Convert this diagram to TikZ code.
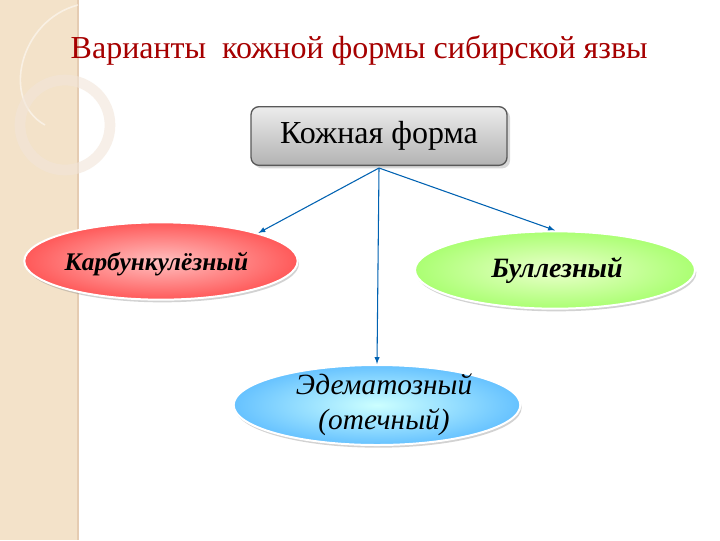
\documentclass[tikz,border=0pt]{standalone}
\usepackage{fontspec}
\setmainfont{Liberation Serif}
\usetikzlibrary{shadows,shapes.geometric}
\begin{document}
\begin{tikzpicture}[x=0.75pt,y=-0.75pt,
  ell/.style={ellipse,draw=white,line width=1.5pt,drop shadow={shadow xshift=1pt,shadow yshift=-2pt,opacity=0.35}},
  arr/.style={-latex,draw=blue!45!cyan!70!black,line width=0.8pt}]
\useasboundingbox (0,0) rectangle (720,540);
\fill[white] (0,0) rectangle (720,540);
\fill[yellow!30!orange!20!brown!25] (0,0) rectangle (78,540);
\draw[brown!40,line width=1pt] (78,0) -- (78,540);
\draw[white,opacity=0.5,line width=1.2pt] (78,5) .. controls (20,20) and (0,100) .. (45,125);
\draw[brown!20!white,opacity=0.6,line width=8pt] (65,125) circle (45);
\node[text=red!65!black,font=\rmfamily\fontsize{24}{26}\selectfont,anchor=west] (title) at (66,50) {Варианты\ \ кожной формы сибирской язвы};
\node[draw=gray!70!black,line width=1pt,rounded corners=6pt,top color=gray!15,bottom color=gray!60,minimum width=192pt,minimum height=44pt,font=\rmfamily\fontsize{24}{26}\selectfont,drop shadow={opacity=0.3}] (top) at (379,136) {Кожная форма};
\node[ell,minimum width=205pt,minimum height=58pt,inner color=red!25,outer color=red!65] (k) at (161,261) {};
\node[font=\rmfamily\fontsize{19}{21}\selectfont\bfseries\itshape,anchor=west] (kt) at (60,264) {Карбункулёзный};
\node[ell,minimum width=210pt,minimum height=58pt,inner color=green!40!yellow!20,outer color=green!60!yellow!55] (b) at (555,270) {};
\node[font=\rmfamily\fontsize{21}{23}\selectfont\bfseries\itshape] (bt) at (557,270) {Буллезный};
\node[ell,minimum width=215pt,minimum height=60pt,inner color=cyan!20,outer color=cyan!60!blue!60] (e) at (377,405) {};
\node[font=\rmfamily\fontsize{22}{26}\selectfont\itshape,align=center] (et) at (384,405) {Эдематозный\\(отечный)};
\draw[arr] (top.south) ++(0,2) coordinate (s) -- (k.north east) ;
\draw[arr] (s) -- (e.north);
\draw[arr] (s) -- (b.north);
\end{tikzpicture}
\end{document}
